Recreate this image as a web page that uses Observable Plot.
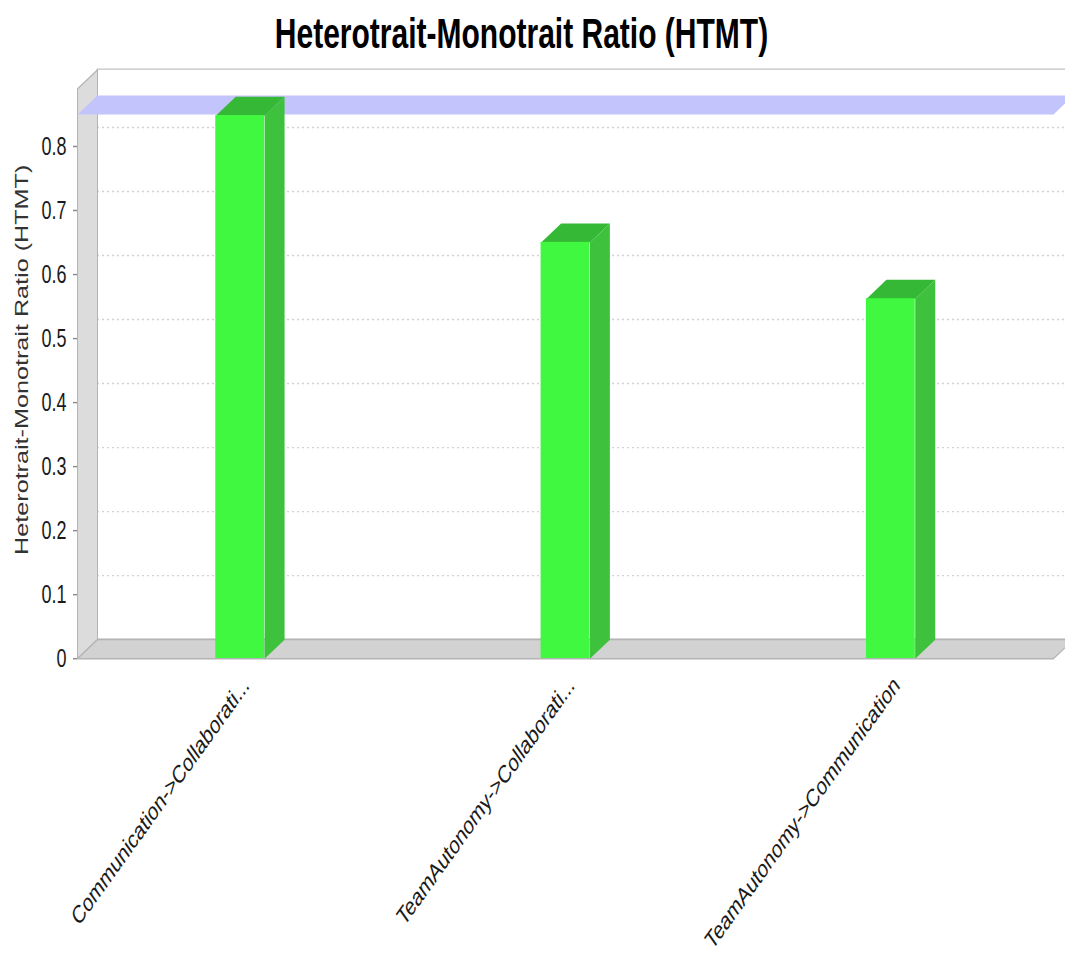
<!DOCTYPE html>
<html>
<head>
<meta charset="utf-8">
<script src="https://cdn.jsdelivr.net/npm/d3@7"></script>
<script src="https://cdn.jsdelivr.net/npm/@observablehq/plot@0.6"></script>
<style>
  html { overflow: hidden; }
  html, body { margin: 0; padding: 0; background: #fff; }
  body { height: 966px; }
  /* The chart is laid out at 1065x690 and stretched vertically to fill the page. */
  #figure {
    width: 1065px; height: 690px;
    transform: scaleY(1.4); transform-origin: 0 0;
    font-family: "Liberation Sans", Arial, sans-serif;
  }
  #title {
    width: 1065px; height: 44px; line-height: 48px;
    box-sizing: border-box; padding-right: 22px;
    text-align: center; font-weight: bold; font-size: 30px; color: #000;
    white-space: nowrap;
  }
  #chart g[aria-label="category labels"] text { letter-spacing: 0.7px; }
  #chart g[aria-label="value label"] text { letter-spacing: 0.35px; }
</style>
</head>
<body>
<div id="figure">
  <div id="title">Heterotrait-Monotrait Ratio (HTMT)</div>
  <div id="chart"></div>
</div>
<script>
// HTMT values per construct pair
const categories = [
  "Communication->Collaborati...",
  "TeamAutonomy->Collaborati...",
  "TeamAutonomy->Communication"
];
const htmt = [0.848, 0.650, 0.562];
// discriminant validity threshold drawn as a marker band
const threshold = 0.85;
const yTicks = [0, 0.1, 0.2, 0.3, 0.4, 0.5, 0.6, 0.7, 0.8];
const yLabel = "Heterotrait-Monotrait Ratio (HTMT)";

// layout
const W = 1065, H = 646;
const M = {top: 19, right: 12, bottom: 220, left: 77};
const xDomain = [-0.5, categories.length - 0.5];
const yDomain = [0, 0.89];
const depthPx = [20, 13.6];           // 3D depth offset in pixels (right, up)
const halfBar = 0.075;                // half bar width, in category units

// convert the pixel depth into data units so every face goes through the scales
const kx = (xDomain[1] - xDomain[0]) / (W - M.left - M.right);
const ky = (yDomain[1] - yDomain[0]) / (H - M.top - M.bottom);
const DX = depthPx[0] * kx, DY = depthPx[1] * ky;

const [xa, xb] = xDomain;
const yTop = yDomain[1];
const poly = (id, pts) => pts.map(([x, y]) => ({id, x, y}));

const leftWall = poly("left", [[xa, 0], [xa, yTop], [xa + DX, yTop + DY], [xa + DX, DY]]);
const floor = poly("floor", [[xa, 0], [xb, 0], [xb + DX, DY], [xa + DX, DY]]);
const band = poly("band", [[xa, threshold], [xb, threshold], [xb + DX, threshold + DY], [xa + DX, threshold + DY]]);
const sides = htmt.flatMap((v, i) => poly("side" + i,
  [[i + halfBar, 0], [i + halfBar, v], [i + halfBar + DX, v + DY], [i + halfBar + DX, DY]]));
const tops = htmt.flatMap((v, i) => poly("top" + i,
  [[i - halfBar, v], [i + halfBar, v], [i + halfBar + DX, v + DY], [i - halfBar + DX, v + DY]]));

const polygon = (data, fill, stroke) =>
  Plot.line(data, {x: "x", y: "y", z: "id", fill, stroke, strokeWidth: 1, curve: "linear-closed"});

const chart = Plot.plot({
  width: W,
  height: H,
  marginTop: M.top,
  marginRight: M.right,
  marginBottom: M.bottom,
  marginLeft: M.left,
  style: {fontFamily: "'Liberation Sans', Arial, sans-serif", fontSize: "18px", color: "#333", background: "transparent"},
  x: {domain: xDomain, axis: null},
  y: {domain: yDomain, axis: null},
  marks: [
    // back wall
    Plot.rect([0], {x1: xa + DX, x2: xb + DX, y1: DY, y2: yTop + DY, fill: "white", stroke: "#c8c8c8"}),
    // gridlines on the back wall
    Plot.ruleY(yTicks.slice(1), {y: d => d + DY, x1: xa + DX, x2: xb + DX,
      stroke: "#d2d2d2", strokeDasharray: "2,3", strokeWidth: 1}),
    // left wall and floor
    polygon(leftWall, "#dcdcdc", "#b4b4b4"),
    polygon(floor, "#d2d2d2", "#b4b4b4"),
    // threshold marker
    polygon(band, "#c4c4fc", "none"),
    // 3D bars: side, top, front
    polygon(sides, "#3ec23e", "none"),
    polygon(tops, "#35b835", "none"),
    Plot.rect(htmt, {x1: (d, i) => i - halfBar, x2: (d, i) => i + halfBar, y1: 0, y2: d => d, fill: "#40f840"}),
    // value axis
    Plot.axisY(yTicks, {tickSize: 4, tickPadding: 7, tickFormat: d3.format("~g"),
      label: null, stroke: "#888", fill: "#1a1a1a"}),
    Plot.text([yLabel], {text: d => d, frameAnchor: "left", textAnchor: "middle", lineAnchor: "middle",
      rotate: -90, dx: -55, dy: -10, fontSize: 18, fill: "#333", ariaLabel: "value label"}),
    // category labels
    Plot.text(categories, {x: (d, i) => i, text: d => d, frameAnchor: "bottom",
      textAnchor: "end", lineAnchor: "middle", rotate: -45, dx: 6, dy: 16,
      fontSize: 18, fill: "#1a1a1a", ariaLabel: "category labels"})
  ]
});

document.getElementById("chart").append(chart);
</script>
</body>
</html>
